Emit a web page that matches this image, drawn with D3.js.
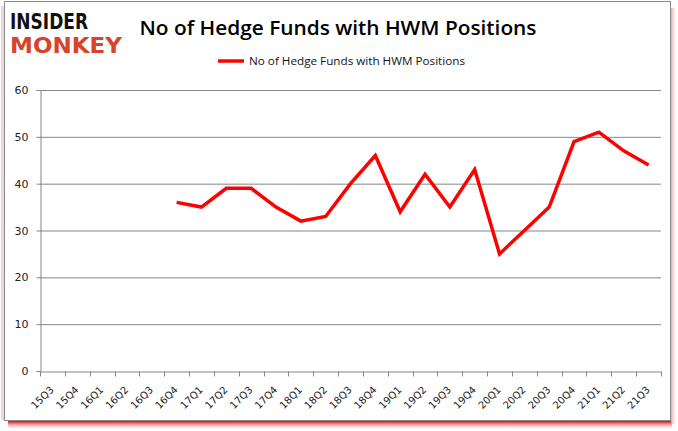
<!DOCTYPE html>
<html><head><meta charset="utf-8">
<script src="https://cdn.jsdelivr.net/npm/d3@7"></script>
<style>body{margin:0;background:#fff;} svg{display:block;}</style>
</head><body>
<script>
const categories = ["15Q3","15Q4","16Q1","16Q2","16Q3","16Q4","17Q1","17Q2","17Q3","17Q4","18Q1","18Q2","18Q3","18Q4","19Q1","19Q2","19Q3","19Q4","20Q1","20Q2","20Q3","20Q4","21Q1","21Q2","21Q3"];
const values = [null,null,null,null,null,36,35,39,39,35,32,33,40,46,34,42,35,43,25,30,35,49,51,47,44];
const yTicks = [0,10,20,30,40,50,60];
const title = "No of Hedge Funds with HWM Positions";
const seriesName = "No of Hedge Funds with HWM Positions";

const W = 678, H = 431;
const svg = d3.select("body").append("svg").attr("width", W).attr("height", H);
const defs = svg.append("defs");
const g1 = defs.append("linearGradient").attr("id","shB").attr("x1",0).attr("y1",0).attr("x2",0).attr("y2",1);
g1.append("stop").attr("offset","0%").attr("stop-color","#e00000");
g1.append("stop").attr("offset","100%").attr("stop-color","#ffd0d0").attr("stop-opacity",0.3);
const g2 = defs.append("linearGradient").attr("id","shR").attr("x1",0).attr("y1",0).attr("x2",1).attr("y2",0);
g2.append("stop").attr("offset","0%").attr("stop-color","#f4a0a0");
g2.append("stop").attr("offset","100%").attr("stop-color","#fff0f0").attr("stop-opacity",0.2);

// frame shadow
svg.append("rect").attr("x",8).attr("y",421).attr("width",664).attr("height",7).attr("fill","url(#shB)");
svg.append("rect").attr("x",671).attr("y",8).attr("width",5).attr("height",416).attr("fill","url(#shR)");
svg.append("rect").attr("x",1).attr("y",6).attr("width",4).attr("height",414).attr("fill","#f0d8d8");
// frame
svg.append("rect").attr("x",4.5).attr("y",1.5).attr("width",666).attr("height",419).attr("fill","#fff").attr("stroke","#8a8a8a").attr("stroke-width",1);

// logo
svg.append("text").attr("x",10).attr("y",29).text("INSIDER")
  .attr("font-family","DejaVu Sans").attr("font-weight","bold").attr("font-size",20.5)
  .attr("fill","#111").attr("textLength",78).attr("lengthAdjust","spacingAndGlyphs");
svg.append("text").attr("x",10).attr("y",53).text("MONKEY")
  .attr("font-family","DejaVu Sans").attr("font-weight","bold").attr("font-size",20.5)
  .attr("fill","#d8432b").attr("textLength",112).attr("lengthAdjust","spacingAndGlyphs");

// title
svg.append("text").attr("x",338).attr("y",35).attr("text-anchor","middle").text(title)
  .attr("font-family","Open Sans, Liberation Sans, sans-serif").attr("font-weight","600").attr("font-size",20)
  .attr("fill","#000").attr("textLength",397).attr("lengthAdjust","spacingAndGlyphs");

// legend
svg.append("line").attr("x1",218).attr("x2",244).attr("y1",61).attr("y2",61).attr("stroke","#ff0000").attr("stroke-width",3.5);
svg.append("text").attr("x",249).attr("y",65).text(seriesName)
  .attr("font-family","Open Sans, sans-serif").attr("font-size",11).attr("fill","#111")
  .attr("textLength",216).attr("lengthAdjust","spacingAndGlyphs");

const pL = 40, pR = 661, pT = 90, pB = 371;
const x = d3.scaleBand().domain(categories).range([pL, pR]).paddingInner(0).paddingOuter(0);
const y = d3.scaleLinear().domain([0,60]).range([pB, pT]);

// gridlines
svg.append("g").selectAll("line").data(yTicks.filter(d=>d>0)).join("line")
  .attr("x1",pL).attr("x2",pR).attr("y1",d=>y(d)+0.5).attr("y2",d=>y(d)+0.5)
  .attr("stroke","#868686").attr("stroke-width",1);

// y axis
const ya = svg.append("g").attr("transform",`translate(${pL+0.5},0)`)
  .call(d3.axisLeft(y).tickValues(yTicks).tickSize(4).tickPadding(8).tickFormat(d3.format("d")));
ya.select(".domain").attr("stroke","#868686");
ya.selectAll(".tick line").attr("stroke","#868686");
ya.selectAll(".tick text").attr("font-family","DejaVu Sans, Verdana, sans-serif").attr("font-size",11).attr("fill","#222");

// x axis
const xa = svg.append("g").attr("transform",`translate(0,${pB+0.5})`)
  .call(d3.axisBottom(x).tickSize(0).tickPadding(0));
xa.select(".domain").attr("stroke","#868686");
xa.selectAll(".tick line").remove();
const bounds = categories.map(c=>x(c)).concat([pR]);
xa.append("g").selectAll("line").data(bounds).join("line")
  .attr("x1",d=>Math.round(d)+0.5).attr("x2",d=>Math.round(d)+0.5).attr("y1",0).attr("y2",5)
  .attr("stroke","#868686");
xa.selectAll(".tick text")
  .attr("font-family","DejaVu Sans, Verdana, sans-serif").attr("font-size",10).attr("fill","#222")
  .attr("text-anchor","end").attr("dy",0).attr("y",0)
  .attr("transform",`translate(2,19) rotate(-45)`);

// line
const line = d3.line().defined(d=>d.v!=null).x(d=>x(d.c)+x.bandwidth()/2).y(d=>y(d.v));
svg.append("path").datum(categories.map((c,i)=>({c, v: values[i]})))
  .attr("d", line).attr("fill","none").attr("stroke","#ff0000").attr("stroke-width",3.5)
  .attr("stroke-linejoin","miter");
</script>
</body></html>
